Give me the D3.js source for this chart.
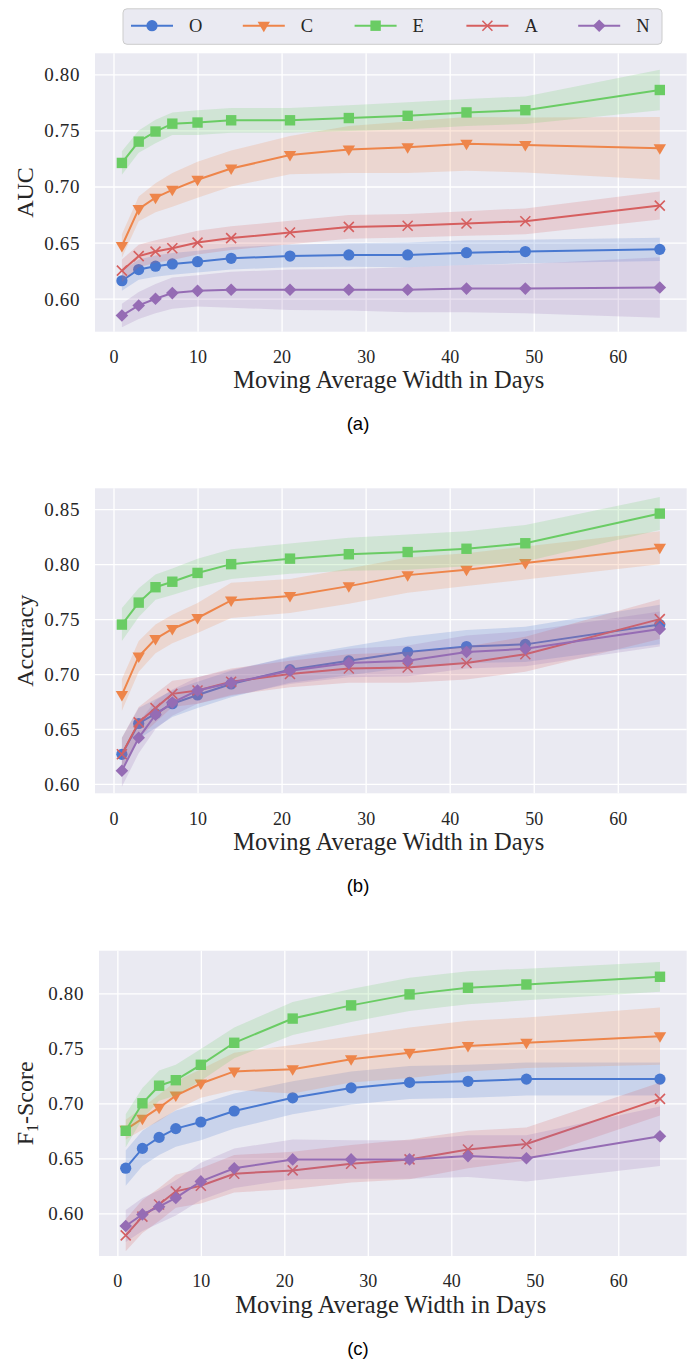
<!DOCTYPE html>
<html><head><meta charset="utf-8">
<script src="https://cdn.jsdelivr.net/npm/d3@7"></script>
<style>body{margin:0;background:#fff}svg{display:block}</style>
</head><body><svg id="chart" width="692" height="1359"></svg>
<script>
const days = [1,3,5,7,10,14,21,28,35,42,49,65];
const traits = ["O","C","E","A","N"];
const xTicks = [0,10,20,30,40,50,60];

// AUC
const aucO = [0.616,0.626,0.629,0.631,0.633,0.636,0.638,0.639,0.639,0.641,0.642,0.644];
const aucC = [0.647,0.680,0.690,0.697,0.706,0.716,0.728,0.733,0.735,0.738,0.737,0.734];
const aucE = [0.721,0.740,0.749,0.756,0.757,0.759,0.759,0.761,0.763,0.766,0.768,0.786];
const aucA = [0.625,0.638,0.642,0.645,0.650,0.654,0.659,0.664,0.665,0.667,0.669,0.683];
const aucN = [0.585,0.594,0.600,0.605,0.607,0.608,0.608,0.608,0.608,0.609,0.609,0.610];
const aucErrO = [0.009,0.009,0.0095,0.0097,0.0097,0.010,0.010,0.0105,0.011,0.011,0.0105,0.0104];
const aucErrC = [0.0105,0.011,0.013,0.015,0.016,0.016,0.017,0.021,0.023,0.024,0.0245,0.028];
const aucErrE = [0.0105,0.010,0.0105,0.010,0.011,0.011,0.011,0.0115,0.012,0.012,0.0123,0.018];
const aucErrA = [0.010,0.010,0.010,0.0105,0.0105,0.0105,0.0105,0.0105,0.0105,0.011,0.0115,0.0125];
const aucErrN = [0.0105,0.012,0.013,0.014,0.014,0.016,0.018,0.0185,0.020,0.021,0.022,0.027];

// Accuracy
const accO = [0.627,0.655,0.664,0.673,0.681,0.691,0.704,0.712,0.720,0.725,0.727,0.745];
const accC = [0.681,0.716,0.732,0.741,0.751,0.767,0.771,0.780,0.790,0.795,0.801,0.815];
const accE = [0.745,0.765,0.779,0.784,0.792,0.800,0.805,0.809,0.811,0.814,0.819,0.846];
const accA = [0.627,0.656,0.669,0.682,0.685,0.693,0.700,0.705,0.706,0.710,0.718,0.750];
const accN = [0.612,0.642,0.663,0.674,0.685,0.692,0.703,0.710,0.712,0.720,0.723,0.741];
const accErrO = [0.015,0.014,0.013,0.012,0.012,0.012,0.012,0.013,0.014,0.015,0.016,0.018];
const accErrC = [0.0145,0.014,0.013,0.013,0.0137,0.016,0.0155,0.016,0.016,0.015,0.015,0.015];
const accErrE = [0.015,0.013,0.0115,0.012,0.013,0.0135,0.0137,0.015,0.016,0.016,0.0167,0.015];
const accErrA = [0.015,0.014,0.013,0.012,0.012,0.012,0.012,0.013,0.014,0.015,0.016,0.018];
const accErrN = [0.0145,0.014,0.013,0.012,0.012,0.012,0.012,0.013,0.014,0.015,0.016,0.016];

// F1-Score
const f1O = [0.641,0.659,0.669,0.677,0.683,0.693,0.705,0.714,0.719,0.720,0.722,0.722];
const f1C = [0.676,0.686,0.696,0.707,0.718,0.729,0.731,0.740,0.746,0.752,0.755,0.761];
const f1E = [0.675,0.700,0.716,0.721,0.735,0.755,0.777,0.789,0.799,0.805,0.808,0.815];
const f1A = [0.580,0.597,0.608,0.620,0.625,0.636,0.639,0.645,0.649,0.658,0.663,0.704];
const f1N = [0.5885,0.599,0.606,0.614,0.629,0.641,0.649,0.649,0.649,0.652,0.650,0.670];
const f1ErrO = [0.016,0.016,0.016,0.0165,0.0167,0.016,0.015,0.015,0.015,0.015,0.015,0.015];
const f1ErrC = [0.009,0.010,0.012,0.013,0.013,0.017,0.022,0.021,0.023,0.023,0.023,0.026];
const f1ErrE = [0.015,0.014,0.0137,0.014,0.0144,0.014,0.015,0.015,0.015,0.015,0.0144,0.0135];
const f1ErrA = [0.0145,0.015,0.015,0.015,0.016,0.017,0.017,0.017,0.018,0.017,0.015,0.015];
const f1ErrN = [0.0145,0.015,0.015,0.016,0.017,0.018,0.018,0.0175,0.0175,0.019,0.021,0.027];

const aucTicks = [0.60,0.65,0.70,0.75,0.80];
const accTicks = [0.60,0.65,0.70,0.75,0.80,0.85];
const f1Ticks = [0.60,0.65,0.70,0.75,0.80];

const colors = {O:"#4878d0",C:"#ee854a",E:"#6acc64",A:"#d65f5f",N:"#956cb4"};
const symbols = {O:"circle",C:"tri",E:"square",A:"x",N:"diamond"};

const panels = [
  {label:"AUC", caption:"(a)", means:[aucO,aucC,aucE,aucA,aucN], errs:[aucErrO,aucErrC,aucErrE,aucErrA,aucErrN],
   ticks:aucTicks, ydom:[0.5706,0.8187], left:95, top:53.3, bottom:331.7},
  {label:"Accuracy", caption:"(b)", means:[accO,accC,accE,accA,accN], errs:[accErrO,accErrC,accErrE,accErrA,accErrN],
   ticks:accTicks, ydom:[0.5915,0.869], left:95, top:488.3, bottom:793.3},
  {label:"F1", caption:"(c)", means:[f1O,f1C,f1E,f1A,f1N], errs:[f1ErrO,f1ErrC,f1ErrE,f1ErrA,f1ErrN],
   ticks:f1Ticks, ydom:[0.5612,0.8387], left:99, top:950.7, bottom:1256}
];
const right = 686.7;
const serif = "'Liberation Serif','Times New Roman',serif";
const svg = d3.select("#chart");

function drawMarker(g, key, cx, cy, color){
  const s = symbols[key];
  if (s === "x") {
    const r = 5;
    g.append("path").attr("d",`M${cx-r},${cy-r}L${cx+r},${cy+r}M${cx-r},${cy+r}L${cx+r},${cy-r}`)
      .attr("stroke",color).attr("stroke-width",1.6).attr("fill","none");
  } else if (s === "tri") {
    const w = 6.2, h = 10.5;
    g.append("path").attr("d",`M${cx-w},${cy-h*0.38}L${cx+w},${cy-h*0.38}L${cx},${cy+h*0.62}Z`).attr("fill",color);
  } else if (s === "diamond") {
    const r = 6.3;
    g.append("path").attr("d",`M${cx},${cy-r}L${cx+r},${cy}L${cx},${cy+r}L${cx-r},${cy}Z`).attr("fill",color);
  } else if (s === "square") {
    g.append("rect").attr("x",cx-5.2).attr("y",cy-5.2).attr("width",10.4).attr("height",10.4).attr("fill",color);
  } else {
    g.append("circle").attr("cx",cx).attr("cy",cy).attr("r",5.6).attr("fill",color);
  }
}

panels.forEach(p => {
  const x = d3.scaleLinear().domain([-2.2,68.2]).range([p.left,right]);
  const y = d3.scaleLinear().domain(p.ydom).range([p.bottom,p.top]);
  const g = svg.append("g");
  g.append("rect").attr("x",p.left).attr("y",p.top).attr("width",right-p.left).attr("height",p.bottom-p.top).attr("fill","#eaeaf2");
  const gx = g.append("g").attr("transform",`translate(0,${p.bottom})`).attr("font-family",serif)
    .call(d3.axisBottom(x).tickValues(xTicks).tickSize(-(p.bottom-p.top)).tickPadding(8).tickFormat(d3.format("d")));
  gx.attr("font-family",serif);
  gx.select(".domain").remove();
  gx.selectAll(".tick line").attr("stroke","#fff").attr("stroke-width",1.3);
  gx.selectAll(".tick text").attr("font-family",serif).attr("font-size",18).attr("fill","#262626").attr("dy","0.71em").attr("y",18.5);
  const gy = g.append("g").attr("transform",`translate(${p.left},0)`)
    .call(d3.axisLeft(y).tickValues(p.ticks).tickSize(-(right-p.left)).tickFormat(d3.format(".2f")));
  gy.attr("font-family",serif);
  gy.select(".domain").remove();
  gy.selectAll(".tick line").attr("stroke","#fff").attr("stroke-width",1.3);
  gy.selectAll(".tick text").attr("font-family",serif).attr("font-size",19).attr("letter-spacing","0.6px").attr("fill","#262626").attr("x",-15).attr("dy","0.34em");

  const area = d3.area().x(d=>x(d.x)).y0(d=>y(d.m-d.e)).y1(d=>y(d.m+d.e));
  const line = d3.line().x(d=>x(d.x)).y(d=>y(d.m));
  traits.forEach((t,i) => {
    const data = days.map((dd,j)=>({x:dd,m:p.means[i][j],e:p.errs[i][j]}));
    g.append("path").datum(data).attr("d",area).attr("fill",colors[t]).attr("fill-opacity",0.2);
    g.append("path").datum(data).attr("d",line).attr("fill","none").attr("stroke",colors[t]).attr("stroke-width",2);
    data.forEach(d => drawMarker(g,t,x(d.x),y(d.m),colors[t]));
  });

  g.append("text").attr("x",(p.left+right)/2 - 2).attr("y",p.bottom+56.6).attr("text-anchor","middle")
    .attr("font-family",serif).attr("font-size",24.5).attr("fill","#262626").text("Moving Average Width in Days");
  const yl = g.append("text").attr("transform",`translate(33.3,${(p.top+p.bottom)/2}) rotate(-90)`).attr("text-anchor","middle")
    .attr("font-family",serif).attr("font-size",24).attr("fill","#262626");
  if (p.label === "F1") {
    yl.append("tspan").text("F");
    yl.append("tspan").attr("font-size",16).attr("dy",5).text("1");
    yl.append("tspan").attr("dy",-5).text("-Score");
  } else yl.text(p.label);
  g.append("text").attr("x",358).attr("y",p.bottom+98.5).attr("text-anchor","middle")
    .attr("font-family","'Liberation Sans',Arial,sans-serif").attr("font-size",18.5).attr("fill","#000").text(p.caption);
});

const lg = svg.append("g");
lg.append("rect").attr("x",123).attr("y",8.8).attr("width",539).attr("height",35.5).attr("rx",4)
  .attr("fill","#eaeaf2").attr("stroke","#cccccc").attr("stroke-width",1);
traits.forEach((t,i) => {
  const x0 = 131 + i*111.8;
  lg.append("line").attr("x1",x0).attr("x2",x0+42).attr("y1",25.7).attr("y2",25.7).attr("stroke",colors[t]).attr("stroke-width",2);
  drawMarker(lg,t,x0+21,25.7,colors[t]);
  lg.append("text").attr("x",x0+58).attr("y",32).attr("font-family",serif).attr("font-size",18.5).attr("fill","#262626").text(t);
});
</script></body></html>
